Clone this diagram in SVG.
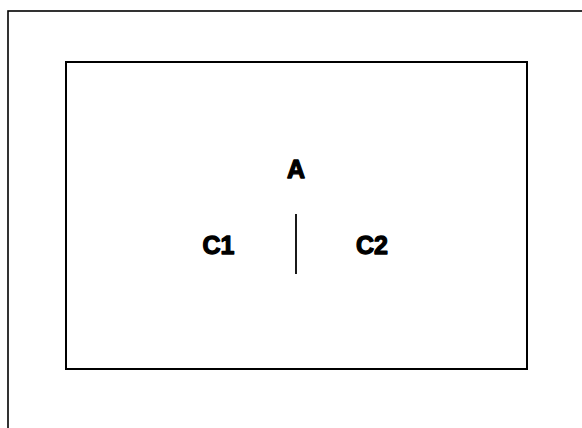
<svg xmlns="http://www.w3.org/2000/svg" width="582" height="428" viewBox="0 0 582 428">
<style>
.lbl{font-family:"Liberation Sans",Arial,sans-serif;font-weight:bold;font-size:25px;fill:#000;stroke:#000;stroke-width:1.3;stroke-linejoin:round;text-anchor:middle}
</style>
<rect width="582" height="428" fill="#fff"/>
<g id="outer"><rect x="8" y="11" width="600" height="440" fill="none" stroke="#000" stroke-width="1.6"/></g>
<g id="frame"><rect x="66" y="62" width="461" height="307" fill="none" stroke="#000" stroke-width="2"/></g>
<g id="A"><text class="lbl" x="296" y="178">A</text></g>
<g id="C1"><text class="lbl" x="218.5" y="254">C1</text></g>
<g id="C2"><text class="lbl" x="372" y="254">C2</text></g>
<g id="connectors"><line x1="296" y1="214" x2="296" y2="274" stroke="#000" stroke-width="1.8"/></g>
</svg>
